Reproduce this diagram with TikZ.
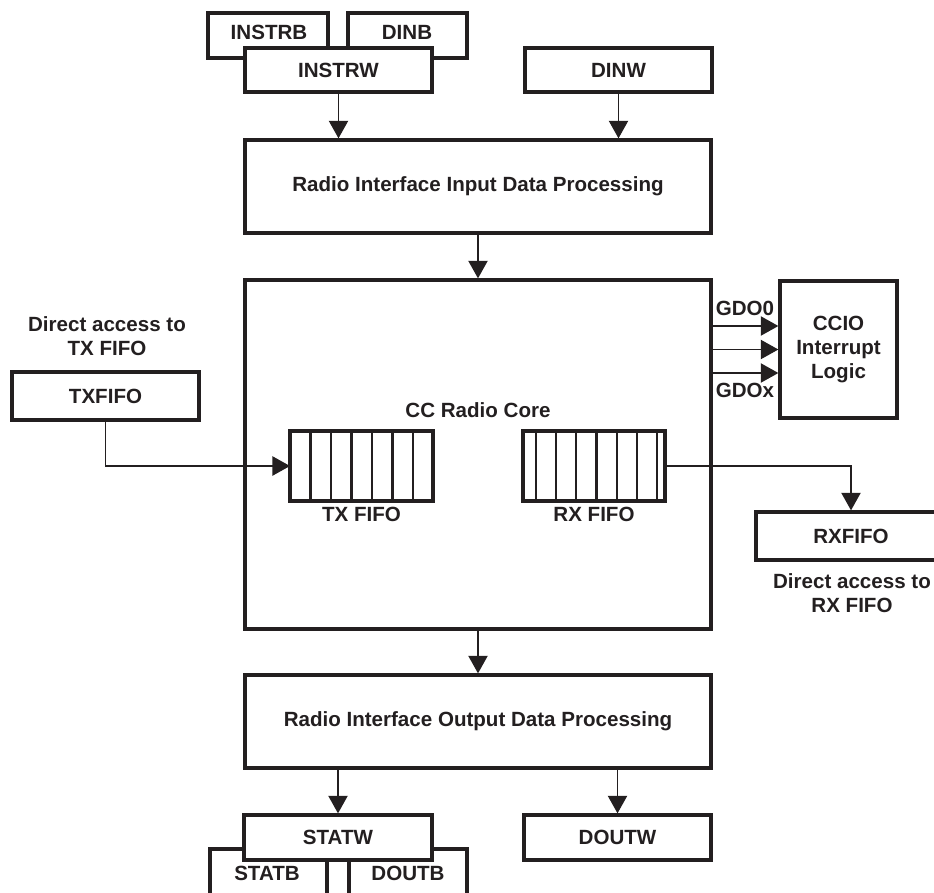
\documentclass[tikz,border=0pt]{standalone}
\usepackage{fontspec}
\setmainfont{Liberation Sans}
\usepackage{xcolor}
\definecolor{ccink}{HTML}{231F20}
\usepackage{tikz}
\usetikzlibrary{arrows.meta,positioning}

\tikzset{
  blk/.style={draw=ccink,line width=1.9pt,fill=white,align=center},
  fifo/.style={draw=ccink,line width=1.9pt,fill=white,outer sep=0pt,
               minimum height=1.4cm},
  cell/.style={draw=ccink,line width=1.2pt},
  lbl/.style={text=ccink,align=center,inner sep=0pt},
  link/.style={draw=ccink,line width=0.7pt,-{Triangle[length=10pt,width=11pt]}},
}

\begin{document}
\begin{tikzpicture}[font=\fontsize{11.7}{13.5}\selectfont\bfseries,text=ccink]
  \useasboundingbox (0,0) rectangle (18.68,-17.84);
  \clip (0,0) rectangle (18.68,-17.84);

  %% Input registers
  \node[blk,minimum width=2.4cm,minimum height=0.9cm] (instrb) at (5.36,-0.71) {};
  \node[lbl] (instrbt) at (5.38,-0.64) {INSTRB};
  \node[blk,minimum width=2.38cm,minimum height=0.9cm] (dinb) at (8.15,-0.71) {};
  \node[lbl] (dinbt) at (8.14,-0.64) {DINB};
  \node[blk,minimum width=3.74cm,minimum height=0.88cm] (instrw) at (6.77,-1.40) {INSTRW};
  \node[blk,minimum width=3.74cm,minimum height=0.88cm] (dinw) at (12.37,-1.40) {DINW};

  %% Processing blocks and core
  \node[blk,minimum width=9.32cm,minimum height=1.86cm] (rin) at (9.56,-3.73)
    {Radio Interface Input Data Processing};
  \node[blk,minimum width=9.32cm,minimum height=6.98cm] (core) at (9.56,-9.09) {};
  \node[lbl] (coret) at (9.56,-8.2) {CC Radio Core};
  \node[blk,minimum width=9.32cm,minimum height=1.86cm] (rout) at (9.56,-14.43)
    {Radio Interface Output Data Processing};

  \draw[link] (instrw.south) -- (instrw.south |- rin.north);
  \draw[link] (dinw.south) -- (dinw.south |- rin.north);
  \draw[link] (rin.south) -- (core.north);
  \draw[link] (core.south) -- (rout.north);

  %% FIFOs
  \node[fifo,minimum width=2.86cm] (txq) at (7.23,-9.32) {};
  \foreach \i in {1,...,6}
    \draw[cell] (txq.north west) ++(\i*0.41,0) -- ++(0,-1.4);
  \node[lbl,below=3.5pt of txq] (txqt) {TX FIFO};

  \node[fifo,minimum width=2.84cm] (rxq) at (11.88,-9.32) {};
  \foreach \i in {0,...,6}
    \draw[cell] (rxq.north west) ++(0.26+\i*0.403,0) -- ++(0,-1.4);
  \node[lbl,below=3.5pt of rxq] (rxqt) {RX FIFO};

  %% Direct access
  \node[lbl] (txnote) at (2.14,-6.73) {Direct access to\\TX FIFO};
  \node[blk,minimum width=3.74cm,minimum height=0.96cm] (txfifo) at (2.11,-7.92) {TXFIFO};
  \draw[link] (txfifo.south) |- (txq.west);

  \node[blk,minimum width=3.8cm,minimum height=0.96cm] (rxfifo) at (17.02,-10.72) {RXFIFO};
  \node[lbl] (rxnote) at (17.04,-11.87) {Direct access to\\RX FIFO};
  \draw[link] (rxq.east) -| (rxfifo.north);

  %% Interrupt logic
  \node[blk,minimum width=2.34cm,minimum height=2.74cm] (ccio) at (16.77,-6.99)
    {CCIO\\Interrupt\\Logic};
  \foreach \s/\n in {0.47/a,0/b,-0.47/c}{
    \path (ccio.west) ++(0,\s) coordinate (gdo\n);
    \draw[link] (gdo\n -| core.east) -- (gdo\n);
  }
  \node[lbl] (gdo0t) at (14.9,-6.16) {GDO0};
  \node[lbl] (gdoxt) at (14.9,-7.8) {GDOx};

  %% Output registers
  \node[blk,minimum width=2.34cm,minimum height=1.42cm] (statb) at (5.37,-17.69) {};
  \node[lbl] (statbt) at (5.34,-17.46) {STATB};
  \node[blk,minimum width=2.36cm,minimum height=1.42cm] (doutb) at (8.16,-17.69) {};
  \node[lbl] (doutbt) at (8.16,-17.46) {DOUTB};
  \node[blk,minimum width=3.76cm,minimum height=0.9cm] (statw) at (6.76,-16.75) {STATW};
  \node[blk,minimum width=3.74cm,minimum height=0.9cm] (doutw) at (12.35,-16.75) {DOUTW};

  \draw[link] (statw.north |- rout.south) -- (statw.north);
  \draw[link] (doutw.north |- rout.south) -- (doutw.north);
\end{tikzpicture}
\end{document}
